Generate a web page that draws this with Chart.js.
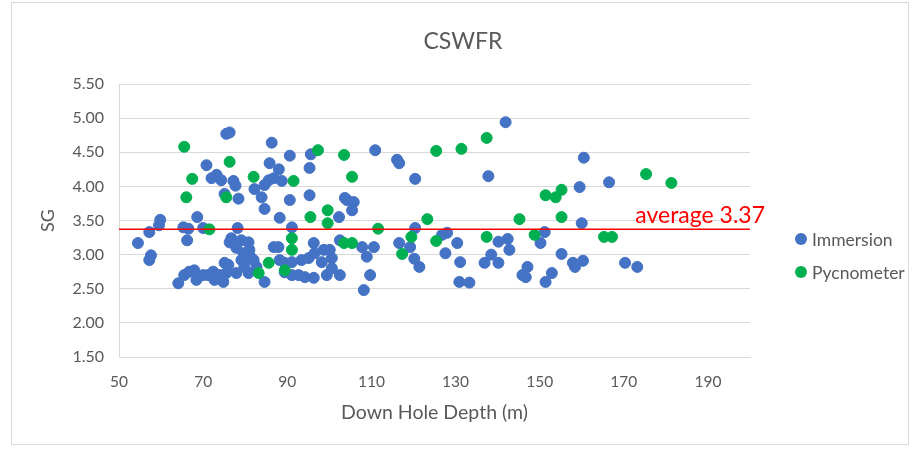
<!DOCTYPE html>
<html>
<head>
<meta charset="utf-8">
<script src="https://cdn.jsdelivr.net/npm/chart.js@4.4.1/dist/chart.umd.min.js"></script>
<style>
  html, body { margin: 0; padding: 0; background: #ffffff; }
  #wrap { position: relative; width: 917px; height: 450px; }
</style>
</head>
<body>
<div id="wrap"><canvas id="chart" width="917" height="450"></canvas></div>
<script>
// ---- data ----
const chartTitle = 'CSWFR';
const xAxisTitle = 'Down Hole Depth (m)';
const yAxisTitle = 'SG';
const seriesNames = ['Immersion', 'Pycnometer'];
const xTickValues = [50, 70, 90, 110, 130, 150, 170, 190];
const yTickValues = [1.5, 2.0, 2.5, 3.0, 3.5, 4.0, 4.5, 5.0, 5.5];
const averageSG = 3.37;
const averageLabel = 'average 3.37';

const immersionDepth = [
  54.5, 57.2, 57.6, 57.2, 59.8, 59.5, 64.1, 65.5, 66.7, 67.9, 68.4, 70.0, 71.2, 72.4, 72.7, 73.9,
  74.8, 76.0, 75.5, 65.3, 66.5, 66.2, 68.6, 70.0, 70.8, 72.0, 73.2, 74.3, 75.5, 76.3, 77.2, 77.7,
  78.4, 75.1, 82.2, 83.9, 84.6, 78.2, 76.7, 77.9, 79.1, 80.8, 81.0, 81.5, 79.1, 79.8, 80.8, 82.7,
  76.3, 79.6, 75.1, 77.9, 86.3, 90.6, 95.6, 85.8, 88.0, 95.3, 85.6, 86.8, 88.7, 84.6, 90.6, 95.3,
  104.2, 105.8, 105.4, 102.3, 88.2, 91.1, 96.3, 86.8, 87.9, 102.5, 107.8, 108.9, 82.0, 88.2, 89.4, 91.1,
  93.4, 95.1, 96.5, 98.7, 100.1, 100.6, 98.2, 100.6, 89.4, 91.1, 92.7, 94.2, 96.3, 99.4, 102.5, 84.6,
  108.2, 109.7, 110.9, 116.1, 116.6, 120.4, 103.7, 120.4, 116.6, 119.2, 110.6, 120.2, 121.4, 141.9, 137.8, 128.0,
  126.8, 130.4, 140.2, 142.4, 142.8, 127.6, 131.1, 136.9, 138.5, 140.2, 130.9, 133.3, 145.9, 160.5, 166.5, 159.5,
  160.0, 151.2, 150.2, 155.2, 157.9, 158.4, 160.3, 170.3, 173.2, 147.1, 146.7, 152.9, 151.4
];
const immersionSG = [
  3.17, 3.33, 2.99, 2.92, 3.51, 3.43, 2.58, 2.70, 2.75, 2.77, 2.63, 2.70, 2.70, 2.75, 2.63, 2.70,
  2.60, 2.85, 2.73, 3.40, 3.38, 3.21, 3.55, 3.39, 4.31, 4.12, 4.17, 4.09, 4.77, 4.79, 4.08, 4.01,
  3.82, 3.89, 3.96, 3.84, 3.67, 3.39, 3.24, 3.10, 3.21, 3.18, 3.07, 2.95, 2.92, 2.82, 2.73, 2.82,
  3.18, 3.02, 2.88, 2.73, 4.64, 4.45, 4.47, 4.34, 4.25, 4.27, 4.09, 4.12, 4.08, 4.02, 3.80, 3.87,
  3.80, 3.77, 3.65, 3.55, 3.54, 3.40, 3.17, 3.11, 3.11, 3.21, 3.11, 2.97, 2.92, 2.92, 2.88, 2.89,
  2.92, 2.95, 3.02, 3.07, 3.07, 2.95, 2.89, 2.80, 2.74, 2.70, 2.70, 2.67, 2.66, 2.70, 2.70, 2.60,
  2.48, 2.70, 4.53, 4.39, 4.34, 4.11, 3.83, 3.39, 3.17, 3.11, 3.11, 2.94, 2.82, 4.94, 4.15, 3.32,
  3.29, 3.17, 3.19, 3.23, 3.07, 3.02, 2.89, 2.88, 3.00, 2.88, 2.60, 2.59, 2.70, 4.42, 4.06, 3.99,
  3.46, 3.33, 3.17, 3.01, 2.88, 2.82, 2.91, 2.88, 2.82, 2.82, 2.67, 2.73, 2.60
];

const pycnometerDepth = [
  65.5, 76.3, 67.4, 82.0, 66.0, 75.5, 71.5, 83.2, 85.6, 89.4, 91.5, 97.3, 103.5, 105.4, 99.6, 95.5,
  99.6, 91.1, 91.1, 103.5, 105.4, 111.6, 119.5, 117.3, 137.4, 131.4, 125.4, 123.3, 145.2, 125.4, 137.4, 155.2,
  153.8, 151.4, 155.2, 148.8, 165.3, 167.2, 175.3, 181.3
];
const pycnometerSG = [
  4.58, 4.36, 4.11, 4.14, 3.84, 3.84, 3.37, 2.73, 2.88, 2.77, 4.08, 4.53, 4.46, 4.14, 3.65, 3.55,
  3.46, 3.24, 3.07, 3.17, 3.17, 3.38, 3.26, 3.01, 4.71, 4.55, 4.52, 3.52, 3.52, 3.20, 3.26, 3.95,
  3.84, 3.87, 3.55, 3.29, 3.26, 3.26, 4.18, 4.05
];

// ---- styling ----
const FONT = 'Lato';
const TEXT_GREY = '#595959';
const GRID_GREY = '#d9d9d9';
const BLUE = '#4472c4';
const GREEN = '#00b050';
const RED = '#ff0000';

const toPoints = (xs, ys) => xs.map((x, i) => ({ x: x, y: ys[i] }));
const xMin = 50, xMax = 200;

// Chart frame, title, legend and the average annotation text
const decorations = {
  id: 'decorations',
  beforeDraw(chart) {
    const ctx = chart.ctx;
    ctx.save();
    ctx.fillStyle = '#ffffff';
    ctx.fillRect(0, 0, chart.width, chart.height);
    ctx.strokeStyle = GRID_GREY;
    ctx.lineWidth = 1;
    ctx.strokeRect(11.5, 2.5, 897, 442);
    ctx.restore();
  },
  afterDatasetsDraw(chart) {
    const ctx = chart.ctx;
    const area = chart.chartArea;
    const yScale = chart.scales.y;
    ctx.save();
    // title
    ctx.fillStyle = TEXT_GREY;
    ctx.font = `23px ${FONT}`;
    ctx.textAlign = 'center';
    ctx.textBaseline = 'middle';
    ctx.fillText(chartTitle, 463, 42);
    // average label
    const yAvg = yScale.getPixelForValue(averageSG);
    ctx.fillStyle = RED;
    ctx.font = `23px ${FONT}`;
    ctx.textAlign = 'right';
    ctx.textBaseline = 'alphabetic';
    ctx.fillText(averageLabel, area.right + 15, yAvg - 6);
    // legend
    const legendY = [239, 272];
    const colors = [BLUE, GREEN];
    ctx.font = `17.5px ${FONT}`;
    ctx.textAlign = 'left';
    ctx.textBaseline = 'middle';
    seriesNames.forEach((name, i) => {
      ctx.fillStyle = colors[i];
      ctx.beginPath();
      ctx.arc(801, legendY[i], 6, 0, Math.PI * 2);
      ctx.fill();
      ctx.fillStyle = TEXT_GREY;
      ctx.fillText(name, 812, legendY[i] + 1);
    });
    ctx.restore();
  }
};

new Chart(document.getElementById('chart'), {
  type: 'scatter',
  data: {
    datasets: [
      {
        label: seriesNames[0],
        data: toPoints(immersionDepth, immersionSG),
        backgroundColor: BLUE,
        borderColor: BLUE,
        borderWidth: 1,
        pointRadius: 5.5,
        order: 3
      },
      {
        label: seriesNames[1],
        data: toPoints(pycnometerDepth, pycnometerSG),
        backgroundColor: GREEN,
        borderColor: GREEN,
        borderWidth: 1,
        pointRadius: 5.5,
        order: 2
      },
      {
        type: 'line',
        label: 'average',
        data: [{ x: xMin, y: averageSG }, { x: xMax, y: averageSG }],
        borderColor: RED,
        borderWidth: 1.5,
        pointRadius: 0,
        fill: false,
        order: 1
      }
    ]
  },
  options: {
    responsive: false,
    animation: false,
    events: [],
    layout: { padding: { left: 10, right: 167, top: 84, bottom: 0 } },
    plugins: {
      legend: { display: false },
      title: { display: false },
      tooltip: { enabled: false }
    },
    scales: {
      x: {
        type: 'linear',
        min: xMin,
        max: xMax,
        afterBuildTicks: (scale) => { scale.ticks = xTickValues.map(v => ({ value: v })); },
        afterFit: (scale) => { scale.height = 93; },
        grid: { display: false, drawTicks: false },
        border: { display: true, color: GRID_GREY, width: 1 },
        ticks: {
          padding: 16,
          color: TEXT_GREY,
          font: { family: FONT, size: 15.5 },
          maxRotation: 0,
          autoSkip: false
        },
        title: {
          display: true,
          text: xAxisTitle,
          color: TEXT_GREY,
          font: { family: FONT, size: 19.5 },
          padding: { top: 0, bottom: 26 }
        }
      },
      y: {
        type: 'linear',
        min: 1.5,
        max: 5.5,
        afterBuildTicks: (scale) => { scale.ticks = yTickValues.map(v => ({ value: v })); },
        afterFit: (scale) => { scale.width = 109; },
        grid: { color: GRID_GREY, drawTicks: false, lineWidth: 1 },
        border: { display: true, color: GRID_GREY, width: 1 },
        ticks: {
          padding: 15,
          color: TEXT_GREY,
          font: { family: FONT, size: 16 },
          autoSkip: false,
          callback: (v) => Number(v).toFixed(2)
        },
        title: {
          display: true,
          text: yAxisTitle,
          color: TEXT_GREY,
          font: { family: FONT, size: 18 },
          padding: { top: 27, bottom: 0 }
        }
      }
    }
  },
  plugins: [decorations]
});
</script>
</body>
</html>
